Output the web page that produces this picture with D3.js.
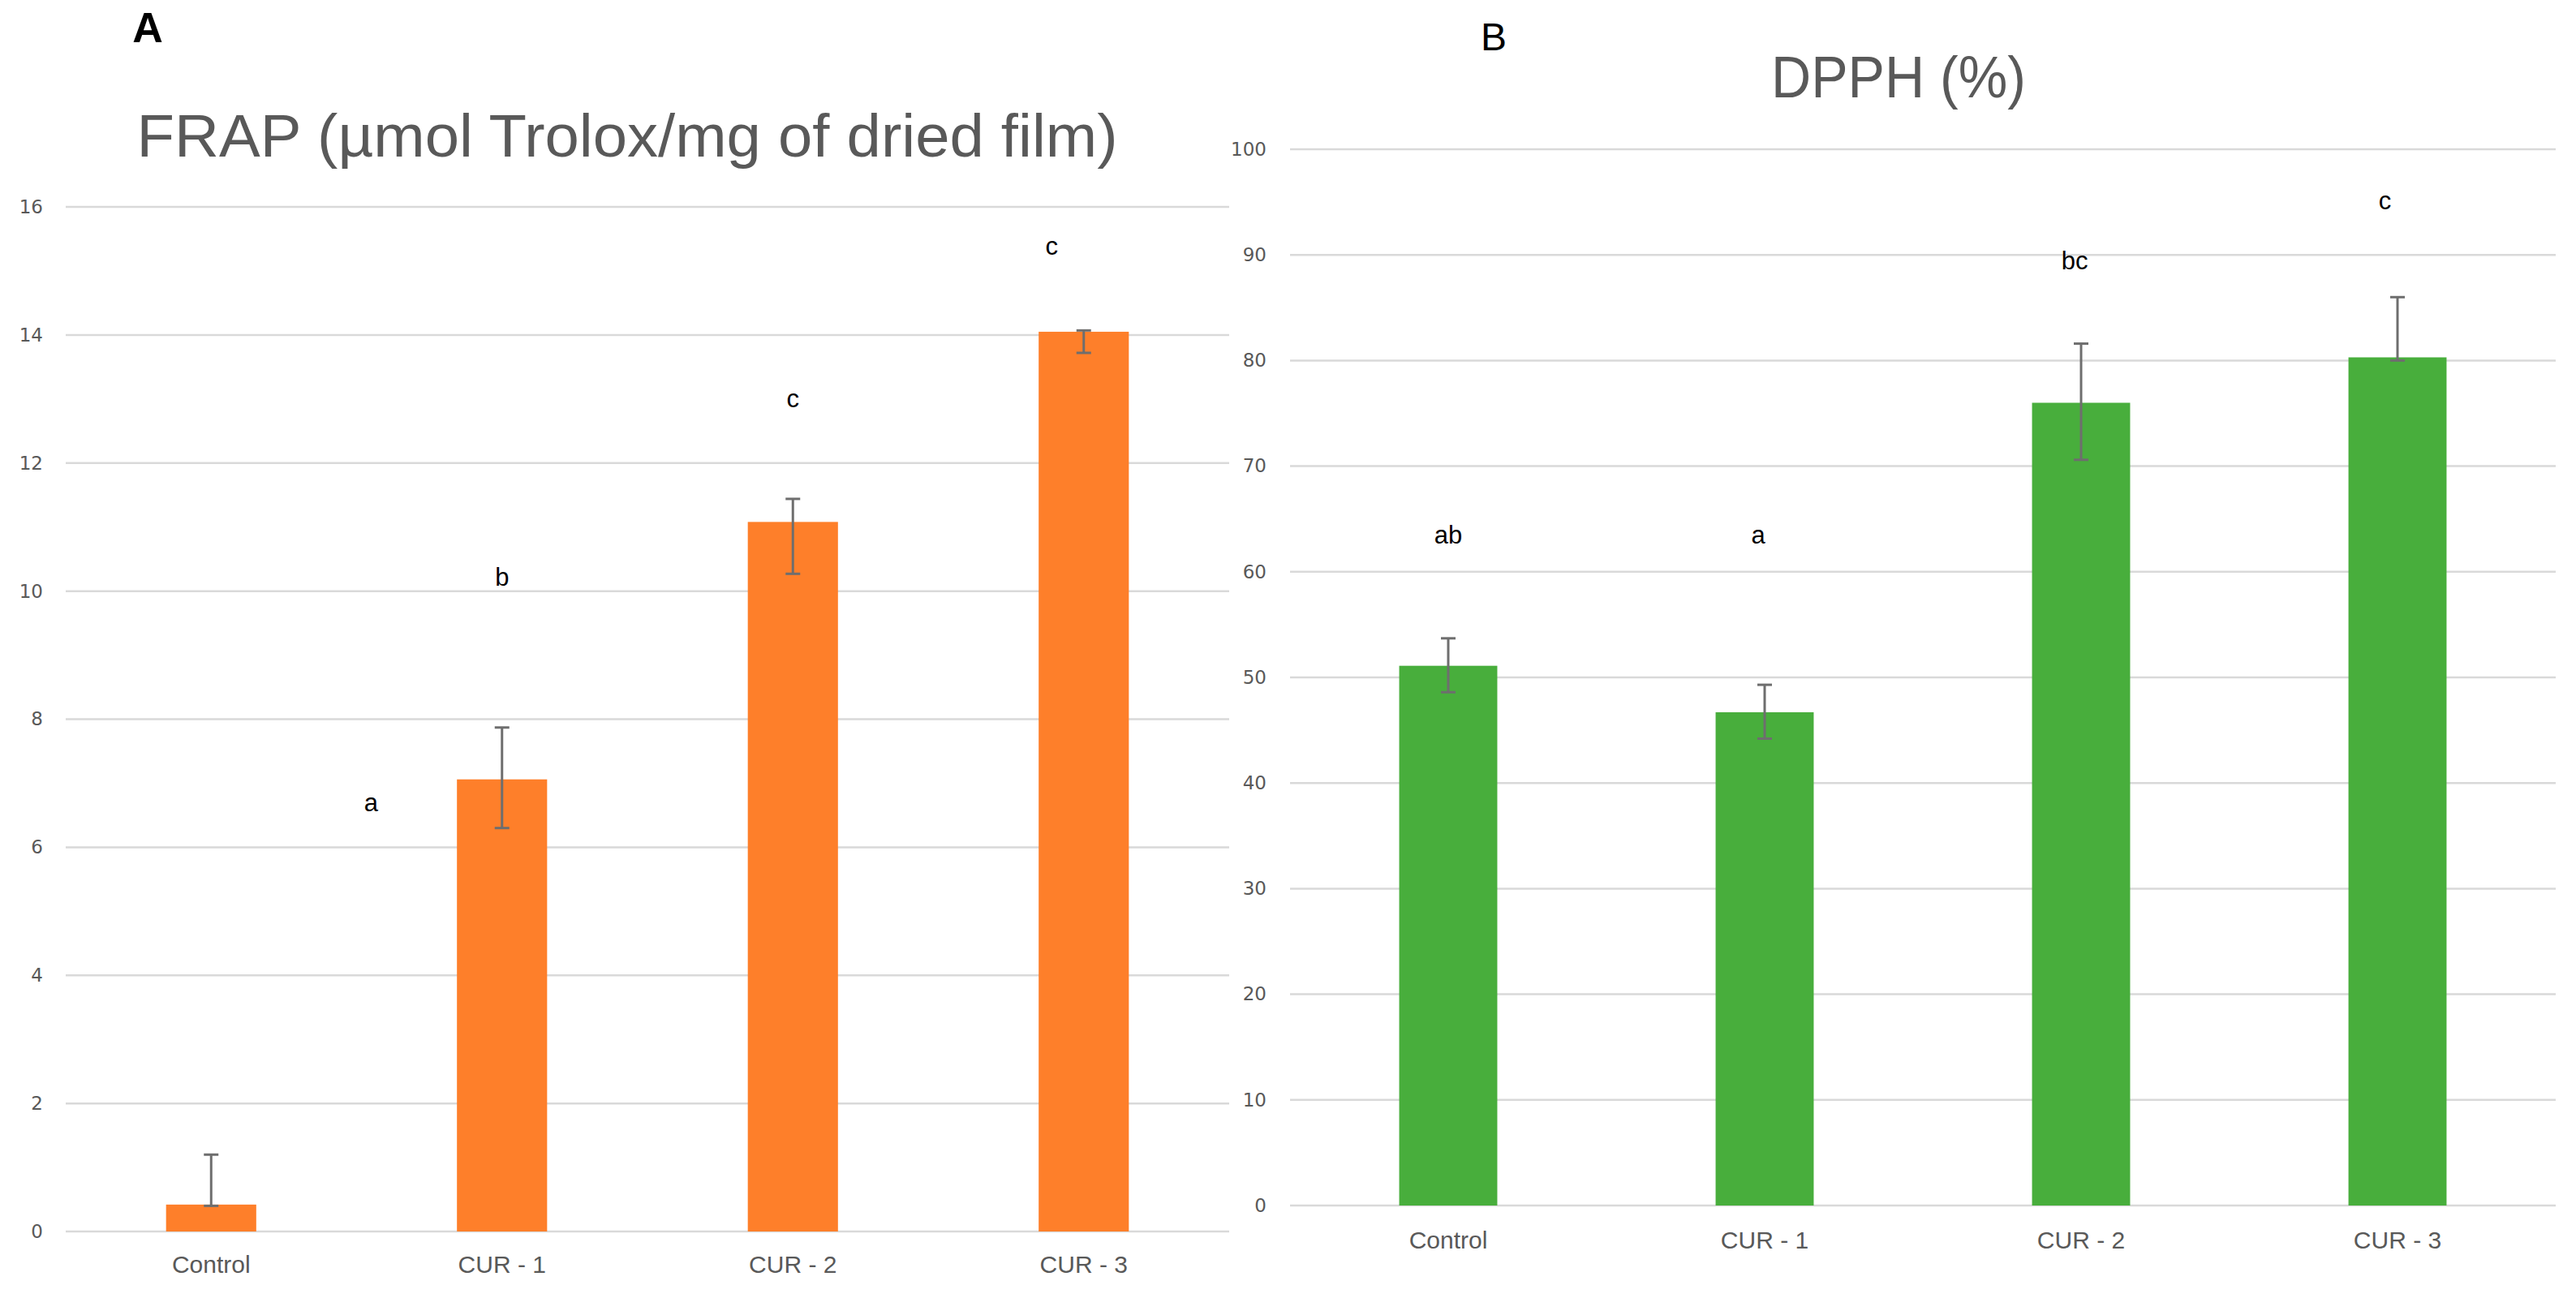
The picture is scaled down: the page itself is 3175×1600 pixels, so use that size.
<!DOCTYPE html>
<html>
<head>
<meta charset="utf-8">
<script src="https://cdn.jsdelivr.net/npm/d3@7"></script>
<style>
  body { margin: 0; background: #fff; }
</style>
</head>
<body>
<svg id="chart" width="3175" height="1600"></svg>
<script>
// categories and values
var categories = ["Control", "CUR - 1", "CUR - 2", "CUR - 3"];

var frapValues = [0.42, 7.06, 11.08, 14.05];
var frapErrLow = [0.40, 6.30, 10.27, 13.72];
var frapErrHigh = [1.20, 7.87, 11.44, 14.07];
var frapTicks = [0, 2, 4, 6, 8, 10, 12, 14, 16];
// letter labels: [text, category index, value]
var frapLetters = [["a", 0.55, 6.56], ["b", 1.0, 10.08], ["c", 2.0, 12.87], ["c", 2.89, 15.25]];

var dpphValues = [51.1, 46.7, 76.0, 80.3];
var dpphErrLow = [48.6, 44.2, 70.6, 80.0];
var dpphErrHigh = [53.7, 49.3, 81.6, 86.0];
var dpphTicks = [0, 10, 20, 30, 40, 50, 60, 70, 80, 90, 100];
var dpphLetters = [["ab", 0.0, 62.7], ["a", 0.98, 62.7], ["bc", 1.98, 88.6], ["c", 2.96, 94.3]];

var svg = d3.select("#chart");

function drawPanel(opt) {
    var g = svg.append("g");

    var x = d3.scaleBand()
        .domain(categories)
        .range([opt.left, opt.right])
        .paddingInner(0.69)
        .paddingOuter(0.345);

    // fractional category index -> pixel (for letter labels)
    var xi = d3.scaleLinear()
        .domain([-0.5, categories.length - 0.5])
        .range([opt.left, opt.right]);

    var y = d3.scaleLinear()
        .domain([0, opt.ticks[opt.ticks.length - 1]])
        .range([opt.bottom, opt.top]);

    // gridlines
    g.selectAll("line.grid")
        .data(opt.ticks)
        .enter()
        .append("line")
        .attr("class", "grid")
        .attr("x1", opt.left)
        .attr("x2", opt.right)
        .attr("y1", function(d) { return y(d); })
        .attr("y2", function(d) { return y(d); })
        .attr("stroke", "#d9d9d9")
        .attr("stroke-width", 2.5);

    // y axis labels
    var yAxis = d3.axisLeft(y)
        .tickValues(opt.ticks)
        .tickSize(0)
        .tickPadding(opt.left - opt.labelRight);
    var ya = g.append("g")
        .attr("transform", "translate(" + opt.left + ",0)")
        .call(yAxis);
    ya.select(".domain").remove();
    ya.selectAll("text")
        .attr("font-family", "DejaVu Sans, Verdana, sans-serif")
        .attr("font-size", "23px")
        .attr("fill", "#595959");

    // bars
    g.selectAll("rect.bar")
        .data(opt.values)
        .enter()
        .append("rect")
        .attr("class", "bar")
        .attr("x", function(d, i) { return x(categories[i]); })
        .attr("y", function(d) { return y(d); })
        .attr("width", x.bandwidth())
        .attr("height", function(d) { return y(0) - y(d); })
        .attr("fill", opt.color);

    // error bars
    var cap = 9;
    opt.values.forEach(function(d, i) {
        var cx = x(categories[i]) + x.bandwidth() / 2;
        var lo = y(opt.errLow[i]), hi = y(opt.errHigh[i]);
        g.append("line")
            .attr("x1", cx).attr("x2", cx)
            .attr("y1", lo).attr("y2", hi)
            .attr("stroke", "#6e6e6e").attr("stroke-width", 3);
        [lo, hi].forEach(function(yy) {
            g.append("line")
                .attr("x1", cx - cap).attr("x2", cx + cap)
                .attr("y1", yy).attr("y2", yy)
                .attr("stroke", "#6e6e6e").attr("stroke-width", 3);
        });
    });

    // x axis labels
    var xAxis = d3.axisBottom(x).tickSize(0).tickPadding(opt.xLabelPad);
    var xa = g.append("g")
        .attr("transform", "translate(0," + opt.bottom + ")")
        .call(xAxis);
    xa.select(".domain").remove();
    xa.selectAll("text")
        .attr("font-family", "Liberation Sans Narrow, Arial Narrow, sans-serif")
        .attr("font-size", "30px")
        .attr("fill", "#595959");

    // significance letters
    g.selectAll("text.letter")
        .data(opt.letters)
        .enter()
        .append("text")
        .attr("class", "letter")
        .attr("x", function(d) { return xi(d[1]); })
        .attr("y", function(d) { return y(d[2]); })
        .attr("text-anchor", "middle")
        .attr("font-family", "Liberation Sans, Arial, sans-serif")
        .attr("font-size", "31px")
        .attr("fill", "#000")
        .text(function(d) { return d[0]; });

    // title
    g.append("text")
        .attr("x", opt.titleX)
        .attr("y", opt.titleY)
        .attr("text-anchor", "middle")
        .attr("font-family", "Liberation Sans Narrow, Arial Narrow, sans-serif")
        .attr("font-size", opt.titleSize + "px")
        .attr("fill", "#595959")
        .attr("textLength", opt.titleWidth)
        .attr("lengthAdjust", "spacingAndGlyphs")
        .text(opt.title);

    // panel letter
    g.append("text")
        .attr("x", opt.panelX)
        .attr("y", opt.panelY)
        .attr("text-anchor", "middle")
        .attr("font-family", "Liberation Sans Narrow, Arial Narrow, sans-serif")
        .attr("font-weight", opt.panelWeight)
        .attr("font-size", opt.panelSize + "px")
        .attr("fill", "#000")
        .text(opt.panel);
}

drawPanel({
    left: 81, right: 1515, top: 255, bottom: 1518, labelRight: 53,
    ticks: frapTicks, values: frapValues, errLow: frapErrLow, errHigh: frapErrHigh,
    letters: frapLetters, color: "#fe7f2a", xLabelPad: 30,
    title: "FRAP (\u00b5mol Trolox/mg of dried film)", titleX: 773, titleY: 193,
    titleSize: 74, titleWidth: 1209,
    panel: "A", panelX: 182, panelY: 52, panelSize: 52, panelWeight: "bold"
});

drawPanel({
    left: 1590, right: 3150, top: 184, bottom: 1486, labelRight: 1561,
    ticks: dpphTicks, values: dpphValues, errLow: dpphErrLow, errHigh: dpphErrHigh,
    letters: dpphLetters, color: "#48ae3c", xLabelPad: 32,
    title: "DPPH (%)", titleX: 2340, titleY: 120,
    titleSize: 73, titleWidth: 314,
    panel: "B", panelX: 1841, panelY: 62, panelSize: 48, panelWeight: "normal"
});
</script>
</body>
</html>
